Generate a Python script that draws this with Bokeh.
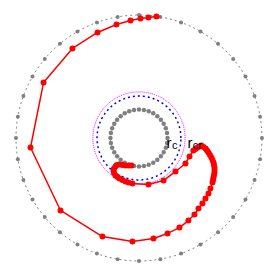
import numpy as np
from bokeh.plotting import figure
from bokeh.models import Range1d, ColumnDataSource
from bokeh.core.properties import value
from bokeh.embed import file_html
from bokeh.resources import INLINE

# radii of reference circles (data units, outer circle = 10)
r_outer = 10.0
r_inner = 2.32
r_c = 3.41
r_cr = 3.75
marker_step_deg = 10

# trajectory (data units)
traj_x = [-0.61, -0.85, -1.10, -1.35, -1.59, -1.80, -1.91, -2.03, -2.07, -2.03, -1.91, -1.75,
          -1.59, -1.35, -1.10, -0.85, -0.53, 0.77, 2.00, 2.97, 3.78, 4.11, 4.43, 4.60, 4.76,
          4.92, 5.08, 5.25, 5.41, 5.53, 5.65, 5.77, 5.89, 5.98, 6.06, 6.10, 6.14, 6.14, 6.14,
          6.10, 6.06, 6.02, 5.98, 5.81, 5.65, 5.41, 5.16, 4.84, 4.51, 4.02, 3.29, 2.32, 1.18,
          -0.53, -2.97, -6.38, -8.82, -7.76, -5.41, -3.37, -1.83, -0.69, 0.12, 0.77, 1.42]
traj_y = [-2.24, -2.24, -2.24, -2.20, -2.15, -2.20, -2.32, -2.48, -2.64, -2.85, -3.05, -3.17,
          -3.29, -3.42, -3.54, -3.62, -3.70, -3.78, -3.46, -2.72, -2.07, -1.50, -1.02, -0.89, -0.77,
          -0.69, -0.61, -0.73, -0.85, -1.01, -1.18, -1.38, -1.59, -1.79, -1.99, -2.20, -2.40, -2.60, -2.80,
          -3.00, -3.21, -3.41, -3.62, -4.11, -4.51, -4.92, -5.33, -5.73, -6.22, -6.71, -7.28, -7.76, -8.17,
          -8.41, -8.01, -5.89, -0.77, 4.51, 7.28, 8.58, 9.23, 9.55, 9.72, 9.80, 9.88]

p = figure(width=274, height=276, output_backend="svg", toolbar_location=None,
           min_border=0, x_range=Range1d(-11.26, 11.02), y_range=Range1d(-11.26, 11.18))
p.axis.visible = False
p.grid.visible = False
p.outline_line_color = None
p.background_fill_color = "white"

ang_fine = np.linspace(0, 2 * np.pi, 400)
ang_mark = np.deg2rad(np.arange(0, 360, marker_step_deg))

# outer circle
p.line(r_outer * np.cos(ang_fine), r_outer * np.sin(ang_fine), line_color="gray",
       line_dash="2 3", line_width=1)
p.scatter(r_outer * np.cos(ang_mark), r_outer * np.sin(ang_mark), size=4,
          fill_color="gray", line_color=None)

# inner circle
p.line(r_inner * np.cos(ang_fine), r_inner * np.sin(ang_fine), line_color="gray",
       line_dash="2 2", line_width=1)
p.scatter(r_inner * np.cos(ang_mark), r_inner * np.sin(ang_mark), size=4.5,
          fill_color="gray", line_color=None)

# r_c and r_cr circles
p.line(r_c * np.cos(ang_fine), r_c * np.sin(ang_fine), line_color="blue",
       line_dash="2 3", line_width=1.5)
p.line(r_cr * np.cos(ang_fine), r_cr * np.sin(ang_fine), line_color="magenta",
       line_dash="1 1", line_width=1)

# trajectory
src = ColumnDataSource(dict(x=traj_x, y=traj_y))
p.line("x", "y", source=src, line_color="red", line_width=1.5)
p.scatter("x", "y", source=src, size=6, fill_color="red", line_color=None)

# labels
font = value("Liberation Sans")
p.text(x=[2.24], y=[-0.37], text=["r"], text_font=font, text_font_size="15px",
       text_baseline="alphabetic", text_align="left", text_color="black")
p.text(x=[2.68], y=[-0.53], text=["c"], text_font=font, text_font_size="11px",
       text_baseline="alphabetic", text_align="left", text_color="black")
p.text(x=[3.94], y=[-0.37], text=["r"], text_font=font, text_font_size="15px",
       text_baseline="alphabetic", text_align="left", text_color="black")
p.text(x=[4.37], y=[-0.53], text=["cr"], text_font=font, text_font_size="11px",
       text_baseline="alphabetic", text_align="left", text_color="black")

open("out.html", "w").write(file_html(p, INLINE))
